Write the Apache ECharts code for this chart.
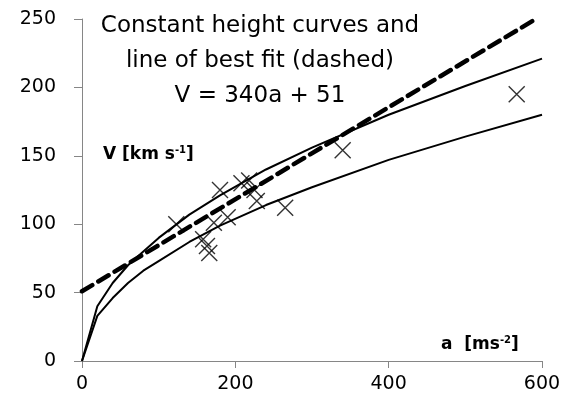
<!DOCTYPE html>
<html><head><meta charset="utf-8">
<script src="https://cdn.jsdelivr.net/npm/echarts@6/dist/echarts.min.js"></script>
<style>html,body{margin:0;padding:0;background:#fff}#c{width:573px;height:411px}</style>
</head><body><div id="c"></div>
<script>
// Observations (a, V)
const obsA = [123, 158, 163, 166, 172, 180, 190, 208, 218, 225, 228, 265, 340, 567];
const obsV = [100, 89, 84, 79, 101, 125, 105, 130, 132, 125, 117, 112, 154, 195];
// Constant height curves
const curveA = [0, 20, 40, 60, 80, 100, 140, 180, 240, 300, 400, 500, 600];
const upperV = [0, 40, 57, 70, 80, 90, 107, 121, 140, 156, 180, 201, 221];
const lowerV = [0, 33, 46, 57, 66, 73, 87, 99, 114, 127, 147, 164, 180];
// Best fit line endpoints
const fitA = [0, 592];
const fitV = [51, 250];
const xTicks = [0, 200, 400, 600];
const yTicks = [0, 50, 100, 150, 200, 250];

const FONT = 'DejaVu Sans';
const zip = (a, b) => a.map((v, i) => [v, b[i]]);
const chart = echarts.init(document.getElementById('c'), null, {renderer: 'canvas'});
chart.setOption({
  animation: false,
  backgroundColor: '#fff',
  grid: {left: 82, right: 31, top: 19, bottom: 50},
  xAxis: {
    type: 'value', min: 0, max: 600, interval: 200,
    axisLine: {show: true, lineStyle: {color: '#868686', width: 1}},
    axisTick: {show: true, length: 7, lineStyle: {color: '#868686'}},
    splitLine: {show: false},
    axisLabel: {color: '#000', fontFamily: FONT, fontSize: 19, margin: 14}
  },
  yAxis: {
    type: 'value', min: 0, max: 250, interval: 50,
    axisLine: {show: true, lineStyle: {color: '#868686', width: 1}},
    axisTick: {show: true, length: 8, lineStyle: {color: '#868686'}},
    splitLine: {show: false},
    axisLabel: {color: '#000', fontFamily: FONT, fontSize: 19, margin: 26}
  },
  graphic: [
    {type: 'text', x: 260, y: 15, style: {text: 'Constant height curves and', font: '23px ' + FONT, fill: '#000', textAlign: 'center'}},
    {type: 'text', x: 260, y: 50, style: {text: 'line of best fit (dashed)', font: '23px ' + FONT, fill: '#000', textAlign: 'center'}},
    {type: 'text', x: 260, y: 85, style: {text: 'V = 340a + 51', font: '23px ' + FONT, fill: '#000', textAlign: 'center'}},
    {type: 'text', x: 103, y: 145, style: {
      text: '{b|V [km s}{s|-1}{b|]}',
      rich: {b: {font: 'bold 17px ' + FONT, fill: '#000'}, s: {font: 'bold 10px ' + FONT, fill: '#000', verticalAlign: 'top', padding: [0,0,9,0]}}
    }},
    {type: 'text', x: 441, y: 335, style: {
      text: '{b|a  [ms}{s|-2}{b|]}',
      rich: {b: {font: 'bold 17px ' + FONT, fill: '#000'}, s: {font: 'bold 10px ' + FONT, fill: '#000', verticalAlign: 'top', padding: [0,0,9,0]}}
    }}
  ],
  series: [
    {type: 'line', data: zip(curveA, upperV), symbol: 'none', lineStyle: {color: '#000', width: 2}, z: 3},
    {type: 'line', data: zip(curveA, lowerV), symbol: 'none', lineStyle: {color: '#000', width: 2}, z: 3},
    {type: 'line', data: zip(fitA, fitV), symbol: 'none', lineStyle: {color: '#000', width: 4.5, type: [12, 7], cap: 'round'}, z: 4},
    {type: 'scatter', data: zip(obsA, obsV), symbol: 'path://M0,0L10,10M10,0L0,10', symbolSize: 16,
      itemStyle: {color: 'rgba(0,0,0,0)', borderColor: '#000', borderWidth: 1.4}, z: 5}
  ]
});
</script></body></html>
